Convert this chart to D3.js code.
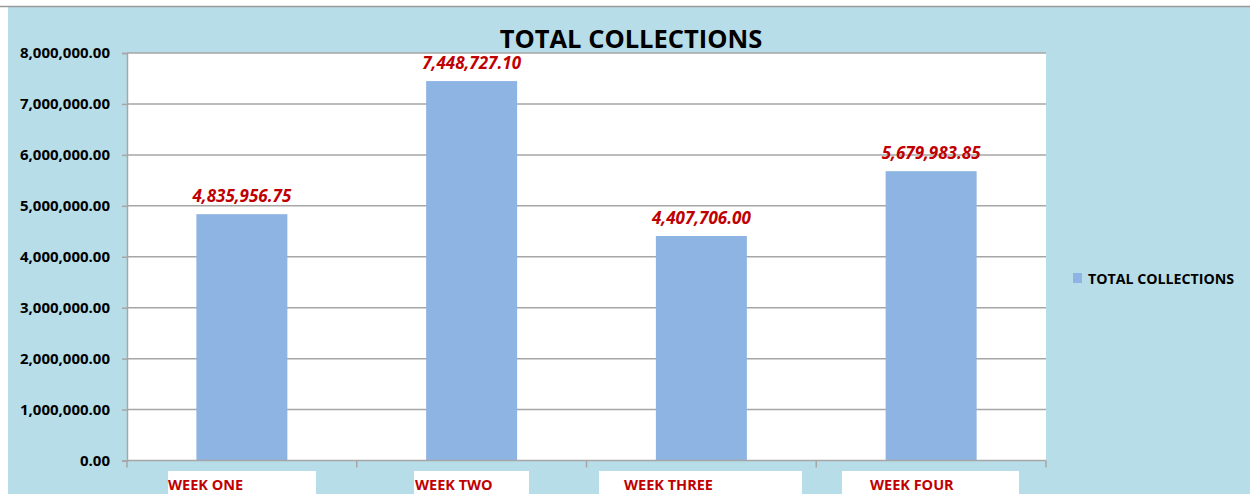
<!DOCTYPE html>
<html>
<head>
<meta charset="utf-8">
<script src="https://cdn.jsdelivr.net/npm/d3@7"></script>
<style>
  body { margin: 0; background: #fff; }
  text { font-family: "Open Sans", "DejaVu Sans", sans-serif; }
</style>
</head>
<body>
<script>
const categories = ["WEEK ONE", "WEEK TWO", "WEEK THREE", "WEEK FOUR"];
const collections = [4835956.75, 7448727.10, 4407706.00, 5679983.85];
const yTicks = [0, 1000000, 2000000, 3000000, 4000000, 5000000, 6000000, 7000000, 8000000];
const seriesName = "TOTAL COLLECTIONS";

const W = 1250, H = 494;
const plot = { left: 127, right: 1046, top: 53, bottom: 460.5 };

const svg = d3.select("body")
    .append("svg")
    .attr("width", W)
    .attr("height", H);

// chart background
svg.append("rect")
    .attr("x", 8)
    .attr("y", 6)
    .attr("width", W - 8)
    .attr("height", H - 6)
    .attr("fill", "#b7dde8");

svg.append("line")
    .attr("x1", 0)
    .attr("x2", W)
    .attr("y1", 6.5)
    .attr("y2", 6.5)
    .attr("stroke", "#9a9a9a")
    .attr("stroke-width", 1.5);

svg.append("rect")
    .attr("x", plot.left)
    .attr("y", plot.top)
    .attr("width", plot.right - plot.left)
    .attr("height", plot.bottom - plot.top)
    .attr("fill", "#ffffff");

const x = d3.scaleBand()
    .domain(categories)
    .range([plot.left, plot.right])
    .paddingInner(0.604)
    .paddingOuter(0.302);

const y = d3.scaleLinear()
    .domain([0, 8000000])
    .range([plot.bottom, plot.top]);

// gridlines
svg.append("g")
    .selectAll("line")
    .data(yTicks.slice(1))
    .join("line")
    .attr("x1", plot.left)
    .attr("x2", plot.right)
    .attr("y1", d => y(d))
    .attr("y2", d => y(d))
    .attr("stroke", "#a6a6a6")
    .attr("stroke-width", 1.5);

// y axis
const yAxis = svg.append("g")
    .attr("transform", `translate(${plot.left},0)`)
    .call(d3.axisLeft(y)
        .tickValues(yTicks)
        .tickSize(5)
        .tickPadding(12)
        .tickFormat(d3.format(",.2f")));
yAxis.select(".domain").attr("stroke", "#a6a6a6").attr("stroke-width", 1.5);
yAxis.selectAll(".tick line").attr("stroke", "#a6a6a6").attr("stroke-width", 1.5);
yAxis.selectAll(".tick text")
    .attr("fill", "#000")
    .style("font-size", "15px")
    .style("font-weight", "bold");

// bars
svg.append("g")
    .selectAll("rect")
    .data(collections)
    .join("rect")
    .attr("x", (d, i) => x(categories[i]))
    .attr("y", d => y(d))
    .attr("width", x.bandwidth())
    .attr("height", d => y(0) - y(d))
    .attr("fill", "#8eb4e3");

// x axis
const xAxis = svg.append("g")
    .attr("transform", `translate(0,${plot.bottom})`);
xAxis.append("line")
    .attr("x1", plot.left)
    .attr("x2", plot.right)
    .attr("stroke", "#a6a6a6")
    .attr("stroke-width", 1.5);
const edges = d3.range(categories.length + 1).map(i => plot.left + i * (plot.right - plot.left) / categories.length);
xAxis.selectAll("line.tk")
    .data(edges)
    .join("line")
    .attr("class", "tk")
    .attr("x1", d => d)
    .attr("x2", d => d)
    .attr("y1", 0)
    .attr("y2", 7)
    .attr("stroke", "#a6a6a6")
    .attr("stroke-width", 1.5);

// category labels on white boxes
const labelBoxes = [
    { x0: 168, x1: 316, tx: 168 },
    { x0: 414, x1: 529, tx: 415 },
    { x0: 599, x1: 802, tx: 624 },
    { x0: 842, x1: 1019, tx: 870 }
];
const lab = svg.append("g");
lab.selectAll("rect")
    .data(labelBoxes)
    .join("rect")
    .attr("x", d => d.x0)
    .attr("y", 471)
    .attr("width", d => d.x1 - d.x0)
    .attr("height", H - 471)
    .attr("fill", "#ffffff");
lab.selectAll("text")
    .data(categories)
    .join("text")
    .attr("x", (d, i) => labelBoxes[i].tx)
    .attr("y", 490)
    .attr("fill", "#c00000")
    .style("font-size", "14.5px")
    .style("font-weight", "bold")
    .text(d => d);

// data labels
svg.append("g")
    .selectAll("text")
    .data(collections)
    .join("text")
    .attr("x", (d, i) => x(categories[i]) + x.bandwidth() / 2)
    .attr("y", d => y(d) - 12)
    .attr("text-anchor", "middle")
    .attr("fill", "#c00000")
    .style("font-size", "17px")
    .style("font-weight", "bold")
    .style("font-style", "italic")
    .text(d => d3.format(",.2f")(d));

// title
svg.append("text")
    .attr("x", 631)
    .attr("y", 48)
    .attr("text-anchor", "middle")
    .attr("fill", "#000")
    .style("font-size", "25.5px")
    .style("font-weight", "bold")
    .text("TOTAL COLLECTIONS");

// legend
svg.append("rect")
    .attr("x", 1073)
    .attr("y", 273)
    .attr("width", 9)
    .attr("height", 10)
    .attr("fill", "#8eb4e3");
svg.append("text")
    .attr("x", 1088)
    .attr("y", 284)
    .attr("fill", "#000")
    .style("font-size", "14.2px")
    .style("font-weight", "bold")
    .text(seriesName);
</script>
</body>
</html>
